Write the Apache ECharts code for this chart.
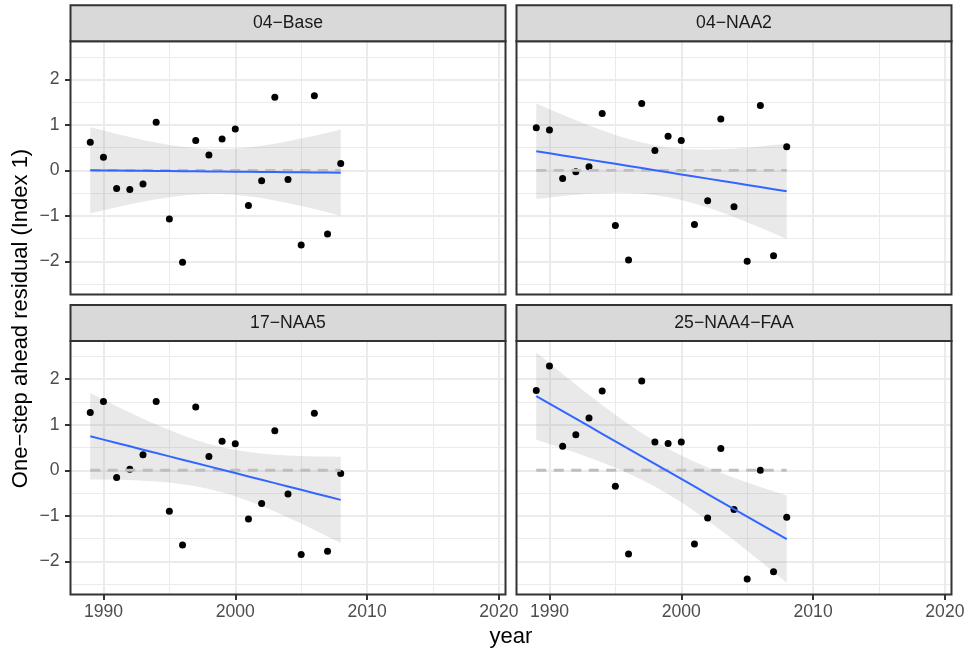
<!DOCTYPE html>
<html><head><meta charset="utf-8">
<script src="https://cdn.jsdelivr.net/npm/echarts@6/dist/echarts.min.js"></script>
<style>html,body{margin:0;padding:0;background:#fff}#c{width:968px;height:653px}</style>
</head><body><div id="c"></div>
<script>
// ---------------- data ----------------
const years = [1989,1990,1991,1992,1993,1994,1995,1996,1997,1998,1999,2000,2001,2002,2003,2004,2005,2006,2007,2008];
const panelNames = ['04\u2212Base','04\u2212NAA2','17\u2212NAA5','25\u2212NAA4\u2212FAA'];
const resBase    = [0.62,0.29,-0.40,-0.42,-0.30,1.06,-1.07,-2.02,0.66,0.34,0.69,0.91,-0.77,-0.23,1.61,-0.20,-1.64,1.64,-1.40,0.15];
const resNAA2    = [0.94,0.89,-0.18,-0.03,0.08,1.25,-1.21,-1.97,1.47,0.44,0.75,0.66,-1.19,-0.67,1.13,-0.80,-2.00,1.43,-1.88,0.52];
const resNAA5    = [1.27,1.51,-0.16,0.02,0.34,1.51,-0.90,-1.64,1.39,0.30,0.64,0.58,-1.07,-0.73,0.87,-0.52,-1.85,1.25,-1.78,-0.07];
const resNAA4FAA = [1.75,2.29,0.53,0.78,1.15,1.74,-0.35,-1.84,1.96,0.62,0.59,0.62,-1.62,-1.05,0.48,-0.86,-2.39,0.00,-2.23,-1.03];
const panelValues = [resBase, resNAA2, resNAA5, resNAA4FAA];
const refLevel = 0;
const xTicks = [1990,2000,2010,2020];
const xMinorTicks = [1995,2005,2015];
const yTicks = [-2,-1,0,1,2];
const yMinorTicks = [-2.5,-1.5,-0.5,0.5,1.5,2.5];
const xLimits = [1987.5, 2020.5];
const yLimits = [-2.73, 2.84];
const xTitle = 'year';
const yTitle = 'One\u2212step ahead residual (Index 1)';

// ---------------- layout ----------------
const FONT = '"Liberation Sans", Arial, Helvetica, sans-serif';
const panels = [
  {left:70.5, top:41.3, width:435, height:253.2, stripTop:5.3},
  {left:516.5, top:41.3, width:435, height:253.2, stripTop:5.3},
  {left:70.5, top:341, width:435, height:253.5, stripTop:305},
  {left:516.5, top:341, width:435, height:253.5, stripTop:305}
];

// linear model fit with 95% confidence band (geom_smooth(method = "lm"))
function lmFit(xs, ys) {
  const n = xs.length;
  const mx = xs.reduce((a,b)=>a+b,0)/n, my = ys.reduce((a,b)=>a+b,0)/n;
  let sxx = 0, sxy = 0;
  for (let i=0;i<n;i++){ sxx += (xs[i]-mx)*(xs[i]-mx); sxy += (xs[i]-mx)*(ys[i]-my); }
  const b = sxy/sxx, a = my - b*mx;
  let sse = 0;
  for (let i=0;i<n;i++){ const r = ys[i]-a-b*xs[i]; sse += r*r; }
  const s = Math.sqrt(sse/(n-2));
  const t = 2.100922; // qt(0.975, 18)
  const pred = x => a + b*x;
  const half = x => t*s*Math.sqrt(1/n + (x-mx)*(x-mx)/sxx);
  return {pred, half};
}

const fmtY = v => (v < 0 ? '\u2212' + Math.abs(v) : String(v));
const fmtX = v => String(v);

const grids = [], xAxes = [], yAxes = [], series = [], graphics = [];
panels.forEach((p, i) => {
  const isLeft = (i % 2 === 0), isBottom = (i >= 2);
  grids.push({left:p.left, top:p.top, width:p.width, height:p.height, show:false, containLabel:false});
  xAxes.push({
    type:'value', gridIndex:i, min:xLimits[0], max:xLimits[1], position:'bottom',
    splitLine:{show:false}, axisLine:{show:false, onZero:false},
    axisTick:{show:isBottom, customValues:xTicks, length:5.5, lineStyle:{color:'#333333', width:2}},
    axisLabel:{show:isBottom, customValues:xTicks, color:'#4D4D4D', fontSize:17.6, fontFamily:FONT, margin:9, formatter:fmtX}
  });
  yAxes.push({
    type:'value', gridIndex:i, min:yLimits[0], max:yLimits[1], position:'left',
    splitLine:{show:false}, axisLine:{show:false, onZero:false},
    axisTick:{show:isLeft, customValues:yTicks, length:5.5, lineStyle:{color:'#333333', width:2}},
    axisLabel:{show:isLeft, customValues:yTicks, color:'#4D4D4D', fontSize:17.6, fontFamily:FONT, margin:11, formatter:fmtY}
  });

  const ys = panelValues[i];
  const fit = lmFit(years, ys);
  const band = years.map(x => [x, fit.pred(x) - fit.half(x), fit.pred(x) + fit.half(x)]);
  const x0 = years[0], x1 = years[years.length-1];

  // grid lines (through the axes' scales)
  const gl = [];
  yMinorTicks.forEach(v => gl.push({yAxis:v, lineStyle:{width:1}}));
  xMinorTicks.forEach(v => gl.push({xAxis:v, lineStyle:{width:1}}));
  yTicks.forEach(v => gl.push({yAxis:v, lineStyle:{width:2}}));
  xTicks.forEach(v => gl.push({xAxis:v, lineStyle:{width:2}}));

  // confidence band
  series.push({
    type:'custom', xAxisIndex:i, yAxisIndex:i, silent:true,
    data: band, encode:{x:0, y:[1,2]},
    renderItem:(params, api) => {
      if (params.dataIndex !== 0) return null;
      const pts = [];
      for (let k=0;k<band.length;k++) pts.push(api.coord([band[k][0], band[k][2]]));
      for (let k=band.length-1;k>=0;k--) pts.push(api.coord([band[k][0], band[k][1]]));
      return {type:'polygon', shape:{points:pts}, style:{fill:'rgba(153,153,153,0.22)'}};
    },
    markLine:{silent:true, symbol:['none','none'], z:0, animation:false,
      label:{show:false}, lineStyle:{color:'#EBEBEB', type:'solid'}, emphasis:{disabled:true}, data:gl}
  });
  // reference dashed line
  series.push({
    type:'line', xAxisIndex:i, yAxisIndex:i, silent:true, symbol:'none',
    data:[[x0, refLevel],[x1, refLevel]],
    lineStyle:{color:'#BEBEBE', width:2.8, type:[10,7.5]}
  });
  // fitted line
  series.push({
    type:'line', xAxisIndex:i, yAxisIndex:i, silent:true, symbol:'none',
    data: years.map(x => [x, fit.pred(x)]),
    lineStyle:{color:'#3366FF', width:2}
  });
  // points
  series.push({
    type:'scatter', xAxisIndex:i, yAxisIndex:i, silent:true, symbol:'circle', symbolSize:7,
    itemStyle:{color:'#000000', opacity:1},
    data: years.map((x,k) => [x, ys[k]])
  });

  // panel border
  graphics.push({type:'rect', z:100, silent:true,
    shape:{x:p.left, y:p.top, width:p.width, height:p.height},
    style:{fill:null, stroke:'#333333', lineWidth:2}});
  // strip
  graphics.push({type:'rect', z:100, silent:true,
    shape:{x:p.left, y:p.stripTop, width:p.width, height:p.top - p.stripTop},
    style:{fill:'#D9D9D9', stroke:'#333333', lineWidth:2}});
  graphics.push({type:'text', z:101, silent:true,
    x:p.left + p.width/2, y:(p.stripTop + p.top)/2,
    style:{text:panelNames[i], fill:'#1A1A1A', font:'17.6px ' + FONT, align:'center', verticalAlign:'middle'}});
});

graphics.push({type:'text', z:101, silent:true, x:511, y:637,
  style:{text:xTitle, fill:'#000000', font:'22px ' + FONT, align:'center', verticalAlign:'middle'}});
graphics.push({type:'text', z:101, silent:true, x:21, y:318.5, rotation:Math.PI/2,
  style:{text:yTitle, fill:'#000000', font:'22px ' + FONT, align:'center', verticalAlign:'middle'}});

const chart = echarts.init(document.getElementById('c'), null, {renderer:'canvas'});
chart.setOption({
  animation:false,
  backgroundColor:'#ffffff',
  grid:grids, xAxis:xAxes, yAxis:yAxes, series:series,
  graphic:{elements:graphics}
});
</script>
</body></html>
